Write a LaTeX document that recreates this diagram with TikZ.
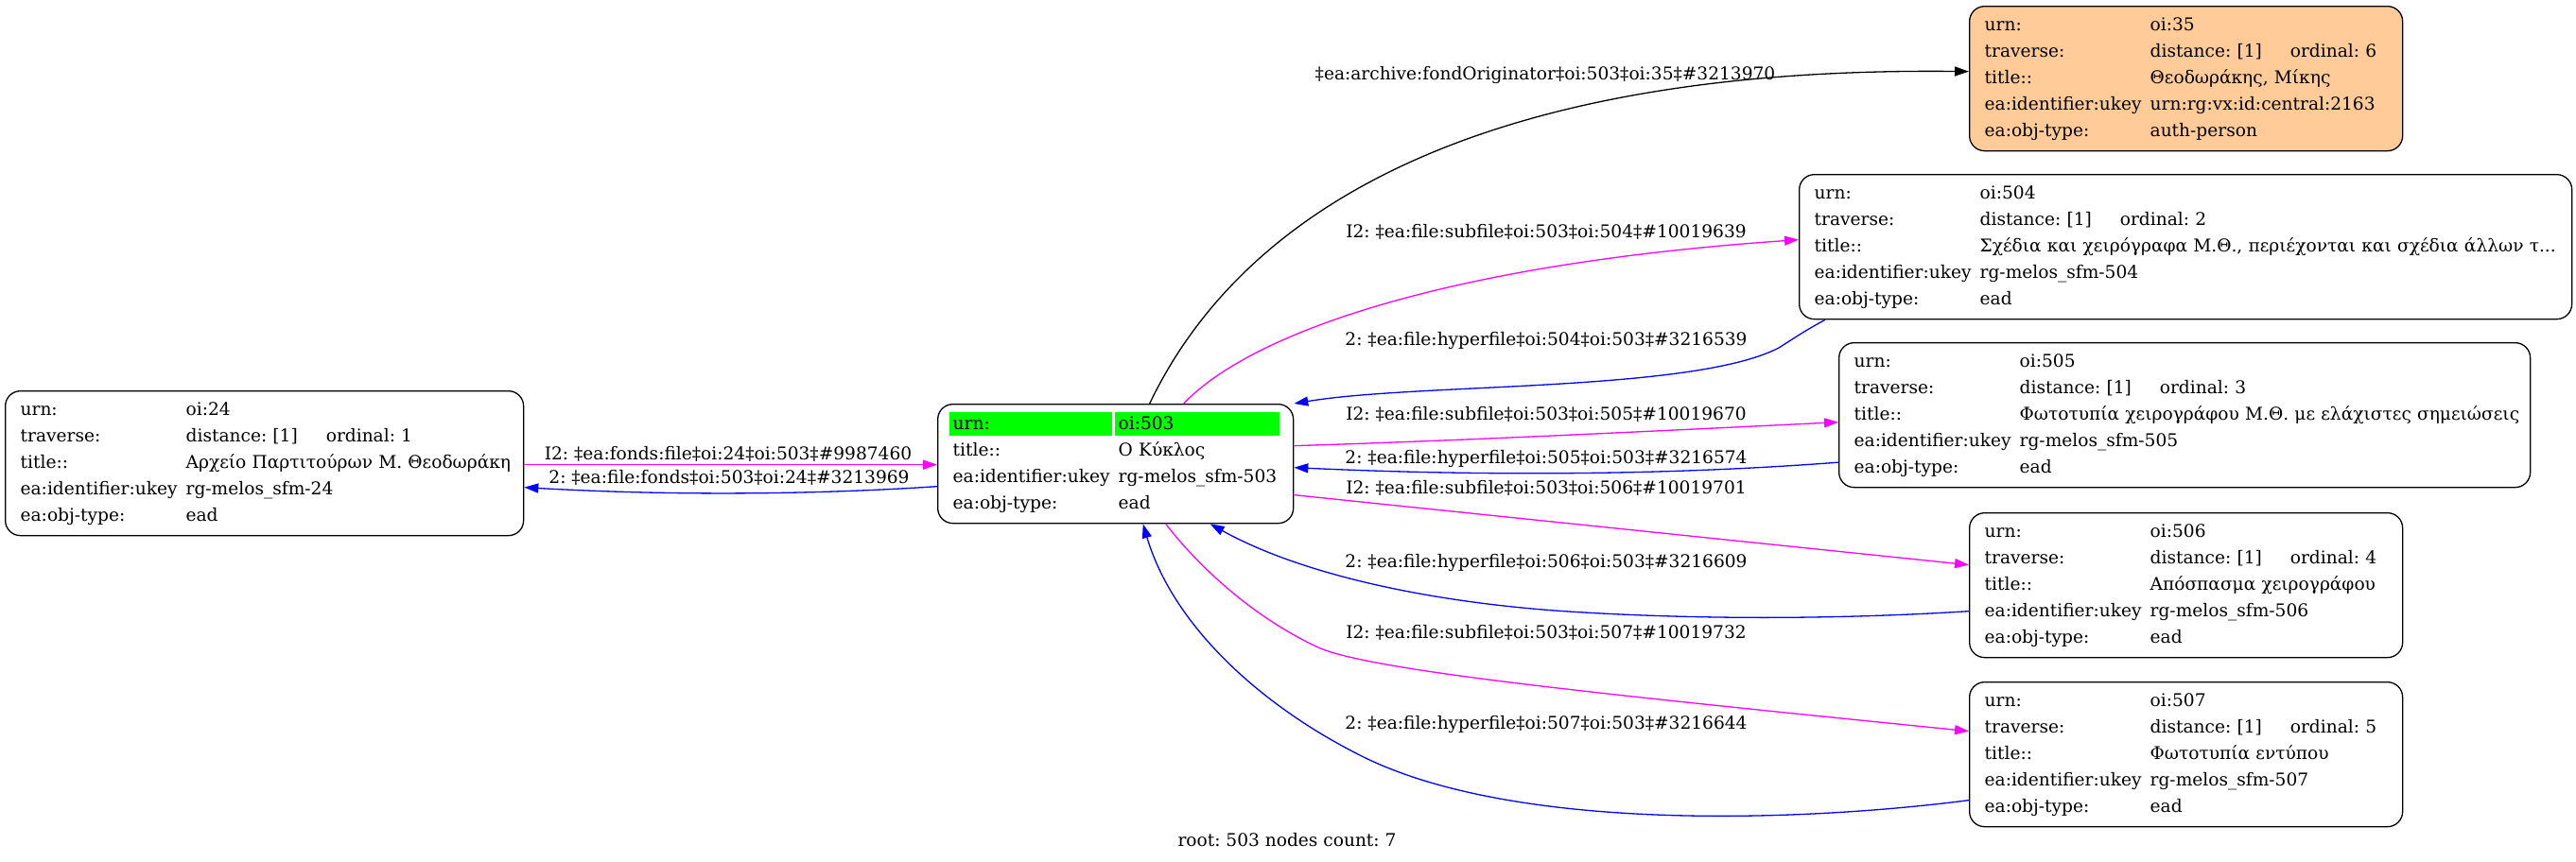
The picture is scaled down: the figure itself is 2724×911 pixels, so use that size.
\documentclass[tikz,border=0pt]{standalone}
\usepackage{fontspec}
\setmainfont{DejaVu Serif}
\usetikzlibrary{arrows.meta,backgrounds}
\frenchspacing

\definecolor{hlgreen}{HTML}{00FF00}
\definecolor{authfill}{HTML}{FFCC99}
\definecolor{subcol}{HTML}{FF00FF}
\definecolor{hypcol}{HTML}{0000FF}

\newcommand{\recfont}{\fontsize{9.3}{14}\selectfont}
\newcommand{\trav}[2]{distance: [#1]\hspace{15pt}ordinal: #2}

\tikzset{
  rec/.style={draw, rounded corners=8pt, line width=0.65pt, anchor=north west,
    inner xsep=8pt, inner ysep=0pt, align=left, font=\recfont, minimum height=76.5pt},
  link/.style={line width=0.65pt, -{Triangle[length=7.5pt,width=5pt]}},
  origlink/.style={link, black},
  sublink/.style={link, subcol},
  hyplink/.style={link, hypcol},
  lbl/.style={font=\recfont, inner sep=0pt, anchor=base},
}

\begin{document}
\begin{tikzpicture}[x=0.5pt, y=-0.5pt]
  \useasboundingbox (0,0) rectangle (2724,911);

  % records
  \node[rec, text width=258pt] (n24) at (5,413) {\begin{tabular}{@{}p{87.5pt}@{}l@{}}
    urn: & oi:24\\
    traverse: & \trav{1}{1}\\
    title:: & Αρχείο Παρτιτούρων Μ. Θεοδωράκη\\
    ea:identifier:ukey & rg-melos\_sfm-24\\
    ea:obj-type: & ead
  \end{tabular}};
  \node[rec, text width=172pt, minimum height=63pt] (n503) at (991,427) {\begin{tabular}{@{}p{87.5pt}@{}l@{}}
    urn: & oi:503\\
    title:: & Ο Κύκλος\\
    ea:identifier:ukey & rg-melos\_sfm-503\\
    ea:obj-type: & ead
  \end{tabular}};
  \node[rec, text width=213pt, fill=authfill] (n35) at (2082,6) {\begin{tabular}{@{}p{87.5pt}@{}l@{}}
    urn: & oi:35\\
    traverse: & \trav{1}{6}\\
    title:: & Θεοδωράκης, Μίκης\\
    ea:identifier:ukey & urn:rg:vx:id:central:2163\\
    ea:obj-type: & auth-person
  \end{tabular}};
  \node[rec, text width=392.5pt] (n504) at (1902,184) {\begin{tabular}{@{}p{87.5pt}@{}l@{}}
    urn: & oi:504\\
    traverse: & \trav{1}{2}\\
    title:: & Σχέδια και χειρόγραφα Μ.Θ., περιέχονται και σχέδια άλλων τ...\\
    ea:identifier:ukey & rg-melos\_sfm-504\\
    ea:obj-type: & ead
  \end{tabular}};
  \node[rec, text width=349.5pt] (n505) at (1944,362) {\begin{tabular}{@{}p{87.5pt}@{}l@{}}
    urn: & oi:505\\
    traverse: & \trav{1}{3}\\
    title:: & Φωτοτυπία χειρογράφου Μ.Θ. με ελάχιστες σημειώσεις\\
    ea:identifier:ukey & rg-melos\_sfm-505\\
    ea:obj-type: & ead
  \end{tabular}};
  \node[rec, text width=213pt] (n506) at (2082,542) {\begin{tabular}{@{}p{87.5pt}@{}l@{}}
    urn: & oi:506\\
    traverse: & \trav{1}{4}\\
    title:: & Απόσπασμα χειρογράφου\\
    ea:identifier:ukey & rg-melos\_sfm-506\\
    ea:obj-type: & ead
  \end{tabular}};
  \node[rec, text width=213pt] (n507) at (2082,721) {\begin{tabular}{@{}p{87.5pt}@{}l@{}}
    urn: & oi:507\\
    traverse: & \trav{1}{5}\\
    title:: & Φωτοτυπία εντύπου\\
    ea:identifier:ukey & rg-melos\_sfm-507\\
    ea:obj-type: & ead
  \end{tabular}};

  % root highlight
  \begin{scope}[on background layer]
    \fill[hlgreen] ([shift={(13,9)}]n503.north west) rectangle ([shift={(185,34)}]n503.north west);
    \fill[hlgreen] ([shift={(188,9)}]n503.north west) rectangle ([shift={(362,34)}]n503.north west);
  \end{scope}

  % links
  \draw[sublink] ([shift={(0,1.5)}]n24.east) -- ([shift={(0,1)}]n503.west);
  \draw[hyplink] ([shift={(0,24)}]n503.west) .. controls (850,524) and (700,524) .. ([shift={(0,25.5)}]n24.east);
  \draw[origlink] ([shift={(36,0)}]n503.north) .. controls (1310,230) and (1550,70) .. ([shift={(0,-7.5)}]n35.west);
  \draw[sublink] ([shift={(72,0)}]n503.north) .. controls (1320,355) and (1520,280) .. ([shift={(0,-7.5)}]n504.west);
  \draw[hyplink] ([shift={(28,0)}]n504.south west) .. controls (1905,352) and (1900,356) .. (1881,368)
    .. controls (1790,415) and (1500,405) .. (n503.north east);
  \draw[sublink] ([shift={(0,-19)}]n503.east) .. controls (1550,466) and (1750,456) .. ([shift={(0,7.5)}]n505.west);
  \draw[hyplink] ([shift={(0,50)}]n505.west) .. controls (1750,504) and (1550,503) .. ([shift={(0,4)}]n503.east);
  \draw[sublink] ([shift={(0,33)}]n503.east) -- ([shift={(0,-21.5)}]n506.west);
  \draw[hyplink] ([shift={(0,27.5)}]n506.west) .. controls (1950,655) and (1800,656) .. (1659,647)
    .. controls (1520,638) and (1380,610) .. ([shift={(100,0)}]n503.south);
  \draw[sublink] ([shift={(53,0)}]n503.south) .. controls (1280,615) and (1340,660) .. (1394,685)
    .. controls (1450,710) and (1700,735) .. ([shift={(0,-24.5)}]n507.west);
  \draw[hyplink] ([shift={(0,48.5)}]n507.west) .. controls (1900,870) and (1600,880) .. (1440,800)
    .. controls (1330,745) and (1240,660) .. ([shift={(29,0)}]n503.south);

  % link labels
  \node[lbl] (l24a) at (770,486) {I2: ‡ea:fonds:file‡oi:24‡oi:503‡\#9987460};
  \node[lbl] (l24b) at (771,511) {2: ‡ea:file:fonds‡oi:503‡oi:24‡\#3213969};
  \node[lbl] (l35) at (1634,84) {‡ea:archive:fondOriginator‡oi:503‡oi:35‡\#3213970};
  \node[lbl] (l504a) at (1635,251) {I2: ‡ea:file:subfile‡oi:503‡oi:504‡\#10019639};
  \node[lbl] (l504b) at (1635,365) {2: ‡ea:file:hyperfile‡oi:504‡oi:503‡\#3216539};
  \node[lbl] (l505a) at (1635,444) {I2: ‡ea:file:subfile‡oi:503‡oi:505‡\#10019670};
  \node[lbl] (l505b) at (1635,490) {2: ‡ea:file:hyperfile‡oi:505‡oi:503‡\#3216574};
  \node[lbl] (l506a) at (1635,522) {I2: ‡ea:file:subfile‡oi:503‡oi:506‡\#10019701};
  \node[lbl] (l506b) at (1635,600) {2: ‡ea:file:hyperfile‡oi:506‡oi:503‡\#3216609};
  \node[lbl] (l507a) at (1635,675) {I2: ‡ea:file:subfile‡oi:503‡oi:507‡\#10019732};
  \node[lbl] (l507b) at (1635,771) {2: ‡ea:file:hyperfile‡oi:507‡oi:503‡\#3216644};

  \node[lbl] (foot) at (1361,895) {root: 503 nodes count: 7};
\end{tikzpicture}
\end{document}
